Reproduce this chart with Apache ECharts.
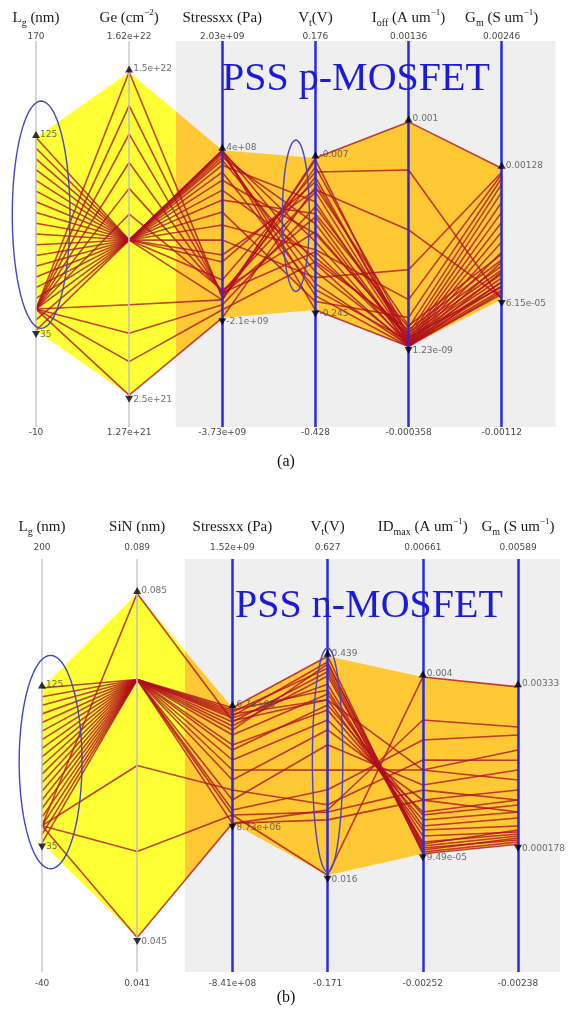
<!DOCTYPE html>
<html>
<head>
<meta charset="utf-8">
<title>PSS MOSFET parallel coordinates</title>
<script src="https://cdn.jsdelivr.net/npm/echarts@6.0.0/dist/echarts.min.js"></script>
<style>
html, body { margin: 0; padding: 0; background: #ffffff; }
#chart { width: 572px; height: 1011px; }
</style>
</head>
<body>
<div id="chart"></div>
<script>
// ---------- (a) PSS p-MOSFET ----------
const axisTitlesA = ['{n|L}{s|g}{n| (nm)}', '{n|Ge (cm}{p|−2}{n|)}', '{n|Stressxx (Pa)}',
  '{n|V}{s|t}{n|(V)}', '{n|I}{s|off}{n| (A um}{p|−1}{n|)}', '{n|G}{s|m}{n| (S um}{p|−1}{n|)}'];
const topTicksA = ['170', '1.62e+22', '2.03e+09', '0.176', '0.00136', '0.00246'];
const bottomTicksA = ['-10', '1.27e+21', '-3.73e+09', '-0.428', '-0.000358', '-0.00112'];
const maxLabelsA = ['125', '1.5e+22', '4e+08', '-0.007', '0.001', '0.00128'];
const minLabelsA = ['35', '2.5e+21', '-2.1e+09', '-0.245', '1.23e-09', '6.15e-05'];

// one entry per simulated device: Lg sweep, nominal, Ge sweep
const lgA = [125, 120, 115, 110, 105, 100, 95, 90, 85, 80, 75, 70, 65, 60, 55, 50, 40, 35,
  45, 45, 45, 45, 45, 45, 45, 45, 45, 45, 45];
const geA = [8.5e21, 8.5e21, 8.5e21, 8.5e21, 8.5e21, 8.5e21, 8.5e21, 8.5e21, 8.5e21, 8.5e21,
  8.5e21, 8.5e21, 8.5e21, 8.5e21, 8.5e21, 8.5e21, 8.5e21, 8.5e21, 8.5e21,
  1.5e22, 1.37e22, 1.26e22, 1.15e22, 1.05e22, 9.5e21, 6.0e21, 4.9e21, 3.8e21, 2.5e21];
const stressA = [4e8, 4e8, 3.85e8, 3.7e8, 3.4e8, 2.96e8, 2.51e8, 1.77e8, 7.3e7, -4.7e7,
  -1.95e8, -3.44e8, -5.23e8, -7.16e8, -9.4e8, -1.163e9, -1.535e9, -1.833e9, -1.267e9,
  -1.803e9, -1.758e9, -1.743e9, -1.728e9, -1.714e9, -1.684e9, -1.833e9, -1.907e9, -1.981e9, -2.1e9];
const vtA = [-0.245, -0.1724, -0.2224, -0.138, -0.2037, -0.11, -0.1849, -0.0757, -0.213, -0.1256,
  -0.163, -0.0944, -0.2317, -0.1506, -0.1943, -0.0569, -0.0289, -0.007, -0.0445,
  -0.0101, -0.0991, -0.0367, -0.1537, -0.0601, -0.1225, -0.021, -0.0835, -0.1693, -0.0523];
const ioffA = [1.23e-9, 3.1e-9, 1.2e-8, 4.4e-6, 6.0e-6, 8.9e-6, 1.33e-5, 1.78e-5, 2.66e-5, 4.0e-5,
  5.77e-5, 8.43e-5, 1.29e-4, 2.09e-4, 3.42e-4, 5.19e-4, 7.86e-4, 0.001, 4.0e-5,
  4.4e-6, 8.9e-6, 1.33e-5, 1.78e-5, 2.66e-5, 3.55e-5, 4.88e-5, 6.21e-5, 7.55e-5, 9.32e-5];
const gmA = [1.33e-4, 2.25e-4, 3.18e-4, 4.1e-4, 5.03e-4, 5.95e-4, 6.88e-4, 7.8e-4, 8.73e-4, 9.65e-4,
  1.058e-3, 1.132e-3, 1.187e-3, 1.224e-3, 1.243e-3, 7.7e-5, 6.15e-5, 0.00128, 1.79e-4,
  1.14e-4, 1.51e-4, 1.88e-4, 2.25e-4, 2.62e-4, 2.99e-4, 3.36e-4, 3.73e-4, 4.29e-4, 4.84e-4];

// ---------- (b) PSS n-MOSFET ----------
const axisTitlesB = ['{n|L}{s|g}{n| (nm)}', '{n|SiN (nm)}', '{n|Stressxx (Pa)}',
  '{n|V}{s|t}{n|(V)}', '{n|ID}{s|max}{n| (A um}{p|−1}{n|)}', '{n|G}{s|m}{n| (S um}{p|−1}{n|)}'];
const topTicksB = ['200', '0.089', '1.52e+09', '0.627', '0.00661', '0.00589'];
const bottomTicksB = ['-40', '0.041', '-8.41e+08', '-0.171', '-0.00252', '-0.00238'];
const maxLabelsB = ['125', '0.085', '6.7e+08', '0.439', '0.004', '0.00333'];
const minLabelsB = ['35', '0.045', '8.73e+06', '0.016', '9.49e-05', '0.000178'];

const lgB = [125, 120, 115, 110, 105, 100, 95, 90, 85, 80, 75, 70, 65, 60, 55, 50, 40, 35,
  45, 45, 45, 45, 45];
const sinB = [0.075, 0.075, 0.075, 0.075, 0.075, 0.075, 0.075, 0.075, 0.075, 0.075, 0.075,
  0.075, 0.075, 0.075, 0.075, 0.075, 0.075, 0.075, 0.075, 0.085, 0.065, 0.055, 0.045];
const stressB = [6.7e8, 6.45e8, 6.22e8, 6.57e8, 5.88e8, 6.34e8, 5.42e8, 6.11e8, 4.57e8, 5.65e8,
  3.71e8, 5.14e8, 2.57e8, 4.28e8, 1.42e8, 3.14e8, 8.73e6, 5.65e7, 8.5e7, 5.95e8, 1.99e8, 5.65e7, 9.5e6];
const vtB = [0.439, 0.416, 0.428, 0.374, 0.409, 0.355, 0.424, 0.385, 0.335, 0.401, 0.316, 0.366,
  0.297, 0.345, 0.268, 0.219, 0.142, 0.016, 0.181, 0.355, 0.152, 0.138, 0.123];
const idB = [9.49e-5, 2.21e-4, 1.33e-4, 4.87e-4, 1.77e-4, 6.19e-4, 2.66e-4, 3.54e-4, 8.4e-4, 3.1e-4,
  1.017e-3, 7.08e-4, 1.282e-3, 9.51e-4, 1.614e-3, 1.946e-3, 3.051e-3, 0.004, 2.609e-3,
  1.946e-3, 2.167e-3, 1.5e-3, 1.28e-3];
const gmB = [1.78e-4, 2.63e-4, 2.23e-4, 4.23e-4, 3.03e-4, 5.44e-4, 3.43e-4, 3.83e-4, 8.24e-4, 4.63e-4,
  1.064e-3, 7.04e-4, 1.264e-3, 9.64e-4, 1.665e-3, 2.065e-3, 2.526e-3, 3.33e-3, 2.366e-3,
  1.465e-3, 1.86e-3, 1.064e-3, 8.24e-4];

// highlighted axis ranges (axis index, value span in that axis's units)
const ringsA = [{ axis: 0, from: 36, to: 142, shift: 0.055, half: 0.31 },
                { axis: 3, from: 0.021, to: -0.216, shift: -0.21, half: 0.145 }];
const ringsB = [{ axis: 0, from: 20, to: 144, shift: 0.09, half: 0.33 },
                { axis: 3, from: 0.022, to: 0.455, shift: 0.0, half: 0.16 }];

const YELLOW = '#ffff36';
const ORANGE = '#fec934';
const LINE_RED = 'rgba(176,14,30,0.78)';
const AXIS_BLUE = '#2a2ae0';
const AXIS_GRAY = '#c9c9c9';
const SMALL_FONT = { fontFamily: 'DejaVu Sans', fontSize: 9, color: '#4a4a4a' };

const richTitle = {
  n: { fontFamily: 'Liberation Serif', fontSize: 15, color: '#1a1a1a', lineHeight: 20 },
  s: { fontFamily: 'Liberation Serif', fontSize: 10, color: '#1a1a1a', lineHeight: 12, verticalAlign: 'bottom' },
  p: { fontFamily: 'Liberation Serif', fontSize: 9, color: '#1a1a1a', lineHeight: 12, verticalAlign: 'top' }
};

const xAxes = [];
const yAxes = [];
const grids = [];
const series = [];

function labelAt(labels) {
  return v => {
    const k = Math.round(v);
    return (Math.abs(v - k) < 1e-6 && k >= 0 && k < labels.length) ? labels[k] : '';
  };
}

function addPanel(p) {
  const gi = grids.length;
  grids.push({ left: p.left, top: p.top, width: p.xMax * p.step, height: p.height, containLabel: false });
  const xi = xAxes.length;
  const base = { type: 'value', gridIndex: gi, min: 0, max: p.xMax, interval: 1,
    axisLine: { show: false }, axisTick: { show: false }, splitLine: { show: false } };
  xAxes.push(Object.assign({}, base, { position: 'bottom',
    axisLabel: Object.assign({ formatter: labelAt(p.bottomTicks), margin: p.bottomMargin }, SMALL_FONT) }));
  xAxes.push(Object.assign({}, base, { position: 'top',
    axisLabel: Object.assign({ formatter: labelAt(p.topTicks), margin: p.topMargin }, SMALL_FONT) }));
  xAxes.push(Object.assign({}, base, { position: 'top', offset: p.titleOffset,
    axisLabel: { formatter: labelAt(p.titles), margin: 1, rich: richTitle } }));
  const yi = yAxes.length;
  yAxes.push({ type: 'value', gridIndex: gi, min: 0, max: 1, show: false });

  const lo = p.bottomTicks.map(Number);
  const hi = p.topTicks.map(Number);
  const norm = (v, k) => (v - lo[k]) / (hi[k] - lo[k]);
  const maxs = p.cols.map(c => Math.max(...c));
  const mins = p.cols.map(c => Math.min(...c));
  const nMax = maxs.map((v, k) => norm(v, k));
  const nMin = mins.map((v, k) => norm(v, k));
  const common = { xAxisIndex: xi, yAxisIndex: yi, silent: true, animation: false };

  // output-side background
  series.push(Object.assign({ type: 'line', z: 1, data: [[0, 0]], symbol: 'none',
    lineStyle: { opacity: 0 },
    markArea: { silent: true, itemStyle: { color: '#efefef' },
      data: [[{ xAxis: p.boundary, yAxis: 0 }, { xAxis: p.grayTo, yAxis: 1 }]] } }, common));

  // vertical axes: inputs gray, outputs blue
  series.push(Object.assign({ type: 'line', z: 2, data: [[0, 0]], symbol: 'none',
    lineStyle: { opacity: 0 },
    markLine: { silent: true, symbol: ['none', 'none'], label: { show: false },
      data: p.cols.map((c, k) => ({ xAxis: k,
        lineStyle: { type: 'solid', color: k < 2 ? AXIS_GRAY : AXIS_BLUE, width: k < 2 ? 1.5 : 2.5 } })) } }, common));

  // min/max envelope, yellow over inputs and orange over outputs
  series.push(Object.assign({ type: 'custom', z: 3, clip: false, data: [[0, 0]],
    renderItem: (params, api) => {
      const top = nMax.map((v, k) => api.coord([k, v]));
      const bot = nMin.map((v, k) => api.coord([k, v])).reverse();
      const x0 = api.coord([0, 0])[0];
      const x5 = api.coord([nMax.length - 1, 0])[0];
      const xb = api.coord([p.boundary, 0])[0];
      const f = (xb - x0) / (x5 - x0);
      const children = [{ type: 'polygon', shape: { points: top.concat(bot) },
        style: { fill: new echarts.graphic.LinearGradient(0, 0, 1, 0, [
          { offset: 0, color: YELLOW }, { offset: f, color: YELLOW },
          { offset: f, color: ORANGE }, { offset: 1, color: ORANGE }]) } }];
      nMax.forEach((v, k) => {
        const a = api.coord([k, v]);
        const b = api.coord([k, nMin[k]]);
        children.push({ type: 'line', shape: { x1: a[0], y1: a[1], x2: b[0], y2: b[1] },
          style: { stroke: 'rgba(150,165,30,0.55)', lineWidth: 1.5 } });
      });
      return { type: 'group', children };
    } }, common));

  // one polyline per device
  const n = p.cols[0].length;
  for (let r = 0; r < n; r++) {
    series.push(Object.assign({ type: 'line', z: 4, symbol: 'none',
      data: p.cols.map((c, k) => [k, norm(c[r], k)]),
      lineStyle: { color: LINE_RED, width: 1.6 } }, common));
  }

  // extreme markers
  series.push(Object.assign({ type: 'scatter', z: 5, symbol: 'triangle', symbolSize: [8, 7],
    symbolOffset: [0, -3], itemStyle: { color: '#000' },
    data: nMax.map((v, k) => [k, v]),
    label: Object.assign({ show: true, position: 'right', distance: 0,
      formatter: q => p.maxLabels[q.dataIndex] }, SMALL_FONT) }, common));
  series.push(Object.assign({ type: 'scatter', z: 5, symbol: 'triangle', symbolRotate: 180,
    symbolSize: [8, 7], symbolOffset: [0, 4], itemStyle: { color: '#000' },
    data: nMin.map((v, k) => [k, v]),
    label: Object.assign({ show: true, position: 'right', distance: 0,
      formatter: q => p.minLabels[q.dataIndex] }, SMALL_FONT) }, common));

  // ellipses around the highlighted axis spans
  series.push(Object.assign({ type: 'custom', z: 6, clip: false,
    data: p.rings.map(() => [0, 0]),
    renderItem: (params, api) => {
      const g = p.rings[params.dataIndex];
      const a = norm(g.from, g.axis), b = norm(g.to, g.axis);
      const cy = (a + b) / 2, ry = Math.abs(a - b) / 2, cx = g.axis + g.shift;
      const pts = [];
      for (let i = 0; i <= 72; i++) {
        const t = i / 72 * Math.PI * 2;
        pts.push(api.coord([cx + g.half * Math.cos(t), cy + ry * Math.sin(t)]));
      }
      return { type: 'polyline', shape: { points: pts },
        style: { stroke: '#4545c6', lineWidth: 1.4, fill: null } };
    } }, common));
}

addPanel({ left: 36, top: 41, height: 386, step: 93.14, xMax: 5.6, boundary: 1.5, grayTo: 5.58,
  cols: [lgA, geA, stressA, vtA, ioffA, gmA],
  topTicks: topTicksA, bottomTicks: bottomTicksA, titles: axisTitlesA,
  maxLabels: maxLabelsA, minLabels: minLabelsA, rings: ringsA,
  topMargin: 0, bottomMargin: 1, titleOffset: 12 });

addPanel({ left: 42, top: 559, height: 413, step: 95.2, xMax: 5.5, boundary: 1.5, grayTo: 5.44,
  cols: [lgB, sinB, stressB, vtB, idB, gmB],
  topTicks: topTicksB, bottomTicks: bottomTicksB, titles: axisTitlesB,
  maxLabels: maxLabelsB, minLabels: minLabelsB, rings: ringsB,
  topMargin: 7, bottomMargin: 7, titleOffset: 21 });

const serif = { fontFamily: 'Liberation Serif', fontWeight: 'normal' };
const chart = echarts.init(document.getElementById('chart'), null, { renderer: 'canvas' });
chart.setOption({
  animation: false,
  backgroundColor: '#ffffff',
  title: [
    { text: 'PSS p-MOSFET', left: 222, top: 59, padding: 0, z: 7,
      textStyle: Object.assign({ fontSize: 40, color: '#1c1cd8' }, serif) },
    { text: 'PSS n-MOSFET', left: 235, top: 586, padding: 0, z: 7,
      textStyle: Object.assign({ fontSize: 40, color: '#1c1cd8' }, serif) },
    { text: '(a)', left: 'center', top: 454, padding: 0,
      textStyle: Object.assign({ fontSize: 16, color: '#111' }, serif) },
    { text: '(b)', left: 'center', top: 990, padding: 0,
      textStyle: Object.assign({ fontSize: 16, color: '#111' }, serif) }
  ],
  grid: grids,
  xAxis: xAxes,
  yAxis: yAxes,
  series: series
});
</script>
</body>
</html>
